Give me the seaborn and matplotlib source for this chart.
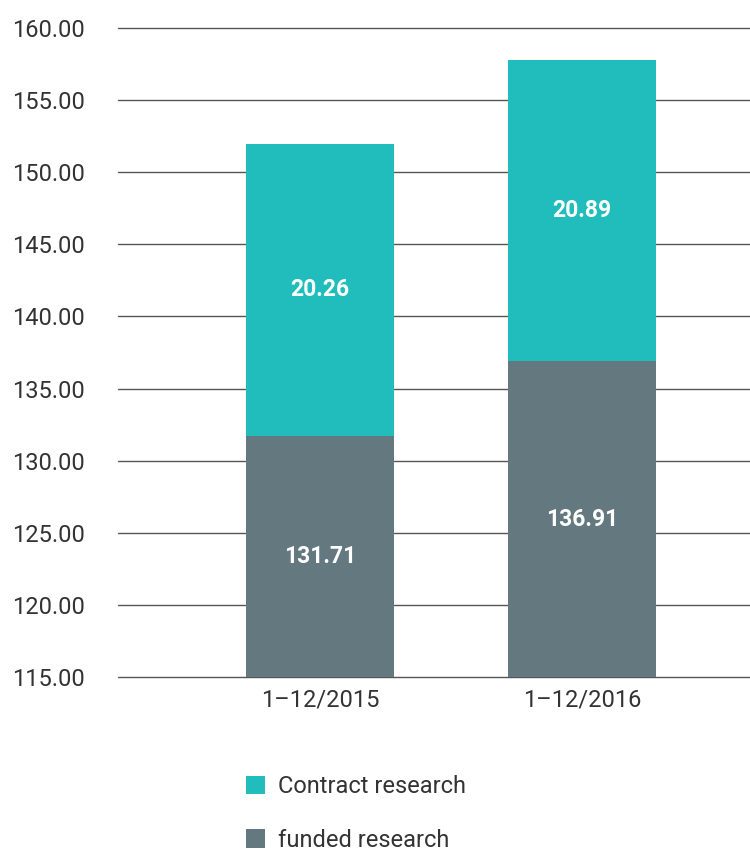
import matplotlib
matplotlib.use("Agg")
import matplotlib.pyplot as plt
import seaborn as sns
import pandas as pd
from matplotlib.patches import Patch

categories = ["1\u201312/2015", "1\u201312/2016"]
funded = [131.71, 136.91]
contract = [20.26, 20.89]
yticks = [115, 120, 125, 130, 135, 140, 145, 150, 155, 160]

TEAL = "#21BDBC"
GRAY = "#647880"
GRID = "#555555"
TEXT = "#333333"

sns.set_theme(style="white")
plt.rcParams["font.family"] = ["Roboto", "DejaVu Sans"]

df = pd.DataFrame({"period": categories, "funded": funded, "contract": contract})
df["total"] = df["funded"] + df["contract"]

fig = plt.figure(figsize=(7.5, 8.52), dpi=100)
ax = fig.add_axes([118 / 750, 1 - 677 / 852, 1 - 118 / 750, (677 - 28) / 852])

for y in yticks:
    ax.axhline(y, color=GRID, lw=1.0, zorder=0, clip_on=False)

sns.barplot(data=df, x="period", y="total", color=TEAL, width=0.565, ax=ax,
            saturation=1, zorder=2, linewidth=0, edgecolor="none")
sns.barplot(data=df, x="period", y="funded", color=GRAY, width=0.565, ax=ax,
            saturation=1, zorder=3, linewidth=0, edgecolor="none")

for i in range(len(categories)):
    ax.text(i, 115 + (funded[i] - 115) / 2, f"{funded[i]:.2f}", ha="center", va="center",
            color="white", fontsize=16.5, fontweight="bold", zorder=5)
    ax.text(i, funded[i] + contract[i] / 2, f"{contract[i]:.2f}", ha="center", va="center",
            color="white", fontsize=16.5, fontweight="bold", zorder=5)

ax.set_ylim(115, 160)
ax.set_xlim(-0.771, 1.641)
ax.set_yticks(yticks)
ax.set_yticklabels([f"{v:.2f}" for v in yticks])
ax.set_xlabel("")
ax.set_ylabel("")
for s in ax.spines.values():
    s.set_visible(False)
ax.tick_params(axis="y", length=0, labelsize=17, colors=TEXT)
ax.tick_params(axis="x", length=0, pad=8, labelsize=17, colors=TEXT)
for lab in ax.get_yticklabels():
    lab.set_horizontalalignment("left")
ax.yaxis.set_tick_params(pad=(118 - 12) * 0.72)

handles = [Patch(facecolor=TEAL, edgecolor="none", label="Contract research"),
           Patch(facecolor=GRAY, edgecolor="none", label="funded research")]
fig.legend(handles=handles, loc="upper left", bbox_to_anchor=(246 / 750, 1 - 775 / 852),
           frameon=False, fontsize=17, handlelength=0.8, handleheight=0.8,
           handletextpad=0.55, labelspacing=1.3, labelcolor=TEXT, borderaxespad=0,
           borderpad=0)

fig.savefig("out.png", dpi=100)
